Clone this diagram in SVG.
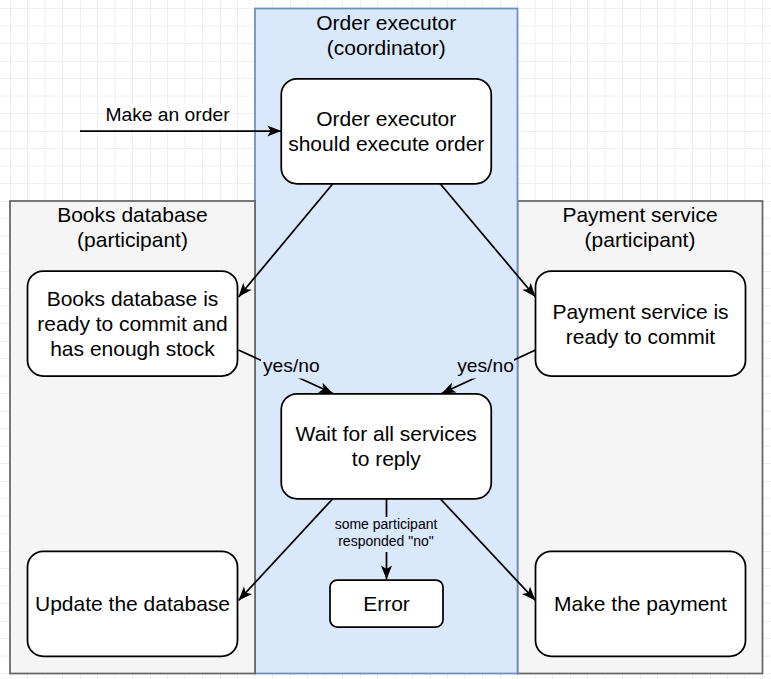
<svg xmlns="http://www.w3.org/2000/svg" width="771" height="679" viewBox="0 0 771 679">
<defs>
<pattern id="grid" patternUnits="userSpaceOnUse" x="10" y="-9" width="70" height="70">
<path d="M17.5,0V70M35,0V70M52.5,0V70M0,17.5H70M0,35H70M0,52.5H70" stroke="#f0f0f0" stroke-width="1" fill="none"/>
<path d="M0,0V70M0,0H70" stroke="#e0e0e0" stroke-width="1" fill="none"/>
</pattern>
<marker id="arr" markerUnits="userSpaceOnUse" markerWidth="14" markerHeight="11" viewBox="0 0 14 11" refX="14" refY="5.5" orient="auto" overflow="visible">
<path d="M14,5.5 L0,0 L3.5,5.5 L0,11 Z" fill="#000"/>
</marker>
</defs>
<style>
.t{font-family:"Liberation Sans",Arial,Helvetica,sans-serif;font-size:21px;fill:#000;text-anchor:middle}
.l{font-size:19.25px}
.s{font-size:14px}
.node{fill:#fff;stroke:#000;stroke-width:1.75}
.gray{fill:#f5f5f5;stroke:#666666;stroke-width:1.75}
.blue{fill:#dae8fc;stroke:#6c8ebf;stroke-width:1.75}
.e{fill:none;stroke:#000;stroke-width:1.75;marker-end:url(#arr)}
</style>
<rect x="0" y="0" width="771" height="679" fill="#fff"/>
<rect x="0" y="0" width="771" height="679" fill="url(#grid)"/>

<g id="payment-container">
<rect class="gray" x="517.5" y="201" width="245" height="472.5"/>
<text class="t" x="640" y="221.7">Payment service</text>
<text class="t" x="640" y="246.9">(participant)</text>
</g>
<g id="coordinator-container">
<rect class="blue" x="255" y="8.5" width="262.5" height="665"/>
<text class="t" x="386.25" y="29.8">Order executor</text>
<text class="t" x="386.25" y="55">(coordinator)</text>
</g>
<g id="books-container">
<rect class="gray" x="10" y="201" width="245" height="472.5"/>
<text class="t" x="132.5" y="221.7">Books database</text>
<text class="t" x="132.5" y="246.9">(participant)</text>
</g>

<g id="connectors">
<rect x="104" y="104" width="127" height="24" fill="#fff"/>
<text class="t l" x="167.5" y="120.8">Make an order</text>
<path class="e" d="M80,131H281.25"/>
<path class="e" d="M333,183.5L238.5,297"/>
<path class="e" d="M440,183.5L535.5,297"/>
<path class="e" d="M238.5,350L333,393.5"/>
<path class="e" d="M535.5,350L441.5,393.5"/>
<path class="e" d="M333,498.5L238.5,600.5"/>
<path class="e" d="M440,498.5L535.5,600.5"/>
<path class="e" d="M386.5,498.5V579.5"/>
<rect x="261" y="356" width="60" height="22.5" fill="#dae8fc"/>
<text class="t l" x="291.3" y="372.3">yes/no</text>
<rect x="456" y="356" width="58" height="22.5" fill="#dae8fc"/>
<text class="t l" x="485.5" y="372.3">yes/no</text>
<rect x="333" y="517" width="106" height="35" fill="#dae8fc"/>
<text class="t s" x="386" y="529">some participant</text>
<text class="t s" x="386" y="545.8">responded "no"</text>
</g>

<g id="order-executor">
<rect class="node" x="281.25" y="78.75" width="210" height="105" rx="15.75"/>
<text class="t" x="386.25" y="126.2">Order executor</text>
<text class="t" x="386.25" y="151.4">should execute order</text>
</g>
<g id="books-ready">
<rect class="node" x="27.5" y="271" width="210" height="105" rx="15.75"/>
<text class="t" x="132.5" y="305.6">Books database is</text>
<text class="t" x="132.5" y="330.8">ready to commit and</text>
<text class="t" x="132.5" y="356">has enough stock</text>
</g>
<g id="payment-ready">
<rect class="node" x="535.5" y="271" width="210" height="105" rx="15.75"/>
<text class="t" x="640.5" y="318.8">Payment service is</text>
<text class="t" x="640.5" y="344">ready to commit</text>
</g>
<g id="wait">
<rect class="node" x="281.25" y="393.75" width="210" height="105" rx="15.75"/>
<text class="t" x="386.25" y="441">Wait for all services</text>
<text class="t" x="386.25" y="466.2">to reply</text>
</g>
<g id="update-db">
<rect class="node" x="27.5" y="551.25" width="210" height="105" rx="15.75"/>
<text class="t" x="132.5" y="611.2">Update the database</text>
</g>
<g id="make-payment">
<rect class="node" x="535.5" y="551.25" width="210" height="105" rx="15.75"/>
<text class="t" x="640.5" y="611.2">Make the payment</text>
</g>
<g id="error">
<rect class="node" x="330" y="580" width="113" height="47" rx="7.2"/>
<text class="t" x="386.5" y="610.8">Error</text>
</g>
</svg>
